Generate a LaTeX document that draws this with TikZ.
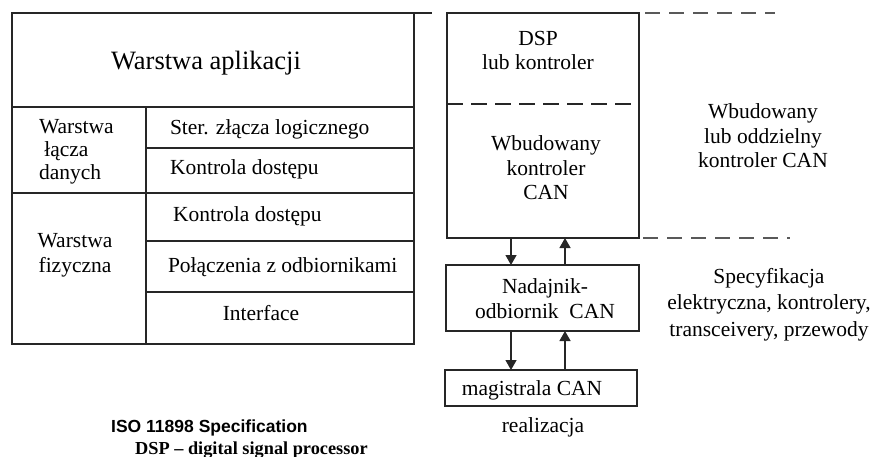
\documentclass[tikz,border=0pt]{standalone}
\usepackage{fontspec}
\setmainfont{Liberation Serif}
\newfontfamily\isofont{Liberation Sans}
\usetikzlibrary{arrows.meta}
\begin{document}
\begin{tikzpicture}[x=1pt,y=-1pt,
  frame/.style={line width=1.5pt, draw=black!85},
  boxnode/.style={frame, inner sep=0pt, outer sep=0pt, anchor=north west},
  lbl/.style={font=\fontsize{21.5}{24.5}\selectfont, inner sep=0pt, outer sep=0pt},
  biglbl/.style={font=\fontsize{26.5}{30}\selectfont, inner sep=0pt},
  gdash/.style={line width=1.5pt, draw=black!65, dash pattern=on 15pt off 9pt},
  idash/.style={line width=1.5pt, draw=black!85, dash pattern=on 16pt off 8pt},
  arr/.style={line width=1.3pt, draw=black!85, -{Triangle[width=11pt,length=10pt]}}]
\useasboundingbox (0,0) rectangle (875,457);
% ---------- left table ----------
\draw[frame] (12,13) -- (432,13);
\draw[frame] (12,13) rectangle (414,344);
\draw[frame] (12,107) -- (414,107);
\draw[frame] (146,107) -- (146,344);
\draw[frame] (146,148) -- (414,148);
\draw[frame] (12,193) -- (414,193);
\draw[frame] (146,241) -- (414,241);
\draw[frame] (146,292) -- (414,292);
\node[biglbl, anchor=base] (app) at (206,70) {Warstwa aplikacji};
\node[lbl, anchor=base west, align=left, font=\fontsize{21.5}{23.5}\selectfont] (dll) at (39,180) {Warstwa\\\ łącza\\danych};
\node[lbl, anchor=base west] (llc) at (170,135) {Ster. złącza logicznego};
\node[lbl, anchor=base west] (mac) at (170,175) {Kontrola dostępu};
\node[lbl, anchor=base, align=center] (phy) at (75,272) {Warstwa\\fizyczna};
\node[lbl, anchor=base west] (mac2) at (173,222) {Kontrola dostępu};
\node[lbl, anchor=base west] (conn) at (168,272) {Połączenia z odbiornikami};
\node[lbl, anchor=base] (intf) at (261,320) {Interface};
\node[font=\isofont\bfseries\fontsize{17.5}{20}\selectfont, inner sep=0pt, anchor=base west] (iso) at (111,432) {ISO 11898 Specification};
\node[font=\bfseries\fontsize{18.3}{21}\selectfont, inner sep=0pt, anchor=base west] (dsp) at (135,454) {DSP – digital signal processor};
% ---------- right column ----------
\node[boxnode, minimum width=192pt, minimum height=225pt] (ctrl) at (447,13) {};
\node[boxnode, minimum width=193pt, minimum height=66pt] (trx) at (446,265) {};
\node[boxnode, minimum width=192pt, minimum height=36pt] (bus) at (445,370) {};
\draw[idash] (447,104) -- (639,104);
\draw[gdash, dash phase=-6pt] (639,13) -- (775,13);
\draw[gdash, dash phase=-4pt] (639,238) -- (790,238);
\node[lbl, anchor=base, align=center] (dspt) at (538,70) {DSP\\lub kontroler};
\node[lbl, anchor=base, align=center] (canc) at (546,200) {Wbudowany\\kontroler\\CAN};
\node[lbl, anchor=base, align=center] (trxt) at (545,318) {Nadajnik-\\odbiornik\ \ CAN};
\node[lbl, anchor=base] (bust) at (532,395) {magistrala CAN};
\node[lbl, anchor=base] (real) at (543,432) {realizacja};
\node[lbl, anchor=base, align=center] (emb) at (763,168) {Wbudowany\\lub oddzielny\\kontroler CAN};
\node[font=\fontsize{21.5}{26.5}\selectfont, inner sep=0pt, anchor=base, align=center] (spec) at (769,336) {Specyfikacja\\elektryczna, kontrolery,\\transceivery, przewody};
% ---------- arrows ----------
\coordinate (dn) at (511,0);
\coordinate (up) at (565,0);
\draw[arr] (ctrl.south -| dn) -- (trx.north -| dn);
\draw[arr] (trx.north -| up) -- (ctrl.south -| up);
\draw[arr] (trx.south -| dn) -- (bus.north -| dn);
\draw[arr] (bus.north -| up) -- (trx.south -| up);
\end{tikzpicture}
\end{document}
